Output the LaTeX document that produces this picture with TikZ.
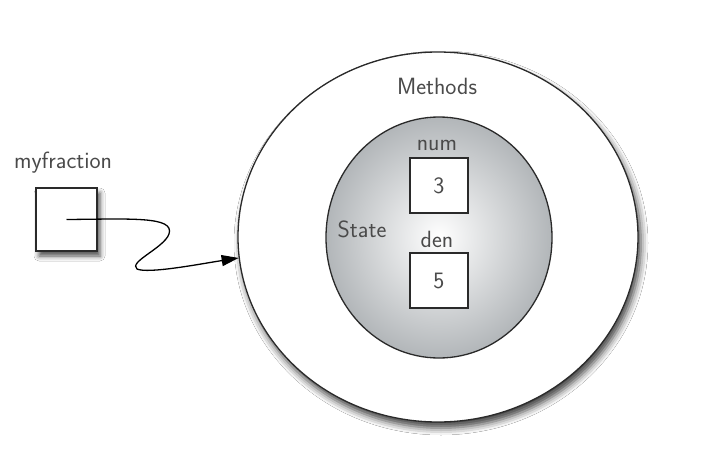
\documentclass[tikz,border=0pt]{standalone}
\usetikzlibrary{shapes.geometric,shadows.blur,arrows.meta}
\definecolor{txtgray}{HTML}{4A4A4A}
\definecolor{linegray}{HTML}{2A2A2A}
\definecolor{edgegray}{HTML}{B2B6B9}
\begin{document}
\begin{tikzpicture}[x=1pt,y=1pt,
  lbl/.style={font=\sffamily\fontsize{23.5}{28}\selectfont, text=txtgray, inner sep=0pt},
  valbox/.style={draw=linegray, line width=1.3pt, fill=white, minimum width=58pt, minimum height=55pt, inner sep=0pt,
    font=\sffamily\fontsize{23.5}{28}\selectfont, text=txtgray},
  outerring/.style={ellipse, draw=linegray, line width=1.3pt, fill=white, minimum width=400pt, minimum height=370pt, inner sep=0pt,
    blur shadow={shadow xshift=3pt, shadow yshift=-6pt, shadow blur radius=7pt, shadow opacity=75}},
  innerring/.style={ellipse, draw=linegray, line width=1.3pt, minimum width=226pt, minimum height=241pt, inner sep=0pt,
    inner color=white, outer color=edgegray},
  conn/.style={draw=black, line width=1.3pt, -{Triangle[length=17pt,width=11pt]}}
]
\useasboundingbox[fill=white] (0,0) rectangle (716,-458);
\node[outerring] (outer) at (438,-237) {};
\node[innerring] (inner) at (439,-237.5) {};
\node[lbl] (methods) at (437,-86) {Methods};
\node[lbl] (state) at (362,-229) {State};
\node[lbl] (numlbl) at (437,-145) {num};
\node[valbox] (num) at (439,-185.5) {3};
\node[lbl] (denlbl) at (437,-239) {den};
\node[valbox] (den) at (439,-280.5) {5};
\node[lbl] (mflbl) at (63,-163) {myfraction};
\node[valbox, minimum width=61pt, minimum height=63pt,
  blur shadow={shadow xshift=3pt, shadow yshift=-5pt, shadow blur radius=5pt, shadow opacity=70}] (mf) at (66.5,-219.5) {};
\draw[conn] (mf.center) .. controls (130,-219) and (175,-216) .. (169,-234)
  .. controls (164,-248) and (128,-262) .. (137,-269)
  .. controls (148,-274) and (200,-264) .. (outer.186);
\end{tikzpicture}
\end{document}
